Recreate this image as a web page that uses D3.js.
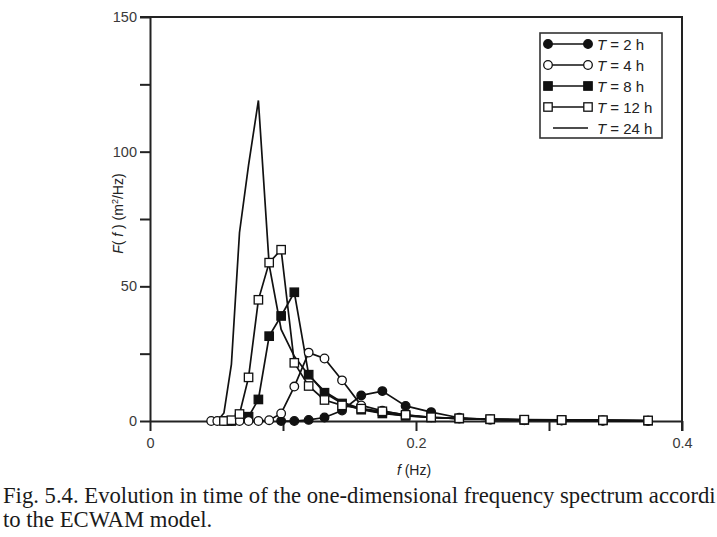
<!DOCTYPE html>
<html>
<head>
<meta charset="utf-8">
<script src="https://cdn.jsdelivr.net/npm/d3@7"></script>
<style>
    body { margin: 0; background: #fff; overflow: hidden; }
    svg { display: block; }
    .axis text { font-family: 'Liberation Sans', Arial, sans-serif; font-size: 14.5px; fill: #3a3a3a; }
    .axis line, .axis path { stroke: #222; stroke-width: 2; }
</style>
</head>
<body>
<svg id="spectrum" width="717" height="537"></svg>
<script>
// ECWAM frequency grid (Hz)
let freqs = [0.0418, 0.0460, 0.0506, 0.0556, 0.0612, 0.0673, 0.0741, 0.0815, 0.0896, 0.0986,
    0.1085, 0.1193, 0.1312, 0.1444, 0.1588, 0.1747, 0.1922, 0.2114, 0.2325, 0.2558,
    0.2814, 0.3095, 0.3405, 0.3745]

// F(f) values (m2/Hz), each series starts at freqs[start]
let t2Start = 9
let t2Values = [0, 0, 0.4, 1.3, 3.9, 9.5, 11.1, 5.6, 3.3, 1.2, 0.5, 0.3, 0.2, 0.1, 0.1]
let t4Start = 1
let t4Values = [0, 0, 0, 0, 0, 0, 0, 0.3, 2.8, 12.8, 25.4, 23.2, 15.1, 5.8, 3.8, 2.2, 1.4, 0.9, 0.6, 0.4, 0.3, 0.2, 0.1]
let t8Start = 4
let t8Values = [0, 1, 1.6, 8, 31.5, 39, 47.8, 17.2, 10.5, 6.5, 4.2, 2.8, 1.9, 1.3, 0.9, 0.6, 0.4, 0.3, 0.2, 0.1]
let t12Start = 3
let t12Values = [0, 0.3, 2.6, 16.2, 45, 58.8, 63.6, 21.6, 13, 7.8, 5.8, 4.6, 3.6, 2.3, 1.4, 1, 0.7, 0.5, 0.4, 0.3, 0.2]
let t24Start = 2
let t24Values = [0, 3, 21, 70, 95, 119, 58, 34, 24, 17, 11, 7, 4.5, 3, 2, 1.3, 0.9, 0.6, 0.4, 0.3, 0.2, 0.1]

let xTicks = [0, 0.1, 0.2, 0.3, 0.4]
let xTickLabels = ['0', '', '0.2', '', '0.4']
let yTicks = [0, 25, 50, 75, 100, 125, 150]
let yTickLabels = ['0', '', '50', '', '100', '', '150']

let legendLabels = ['2 h', '4 h', '8 h', '12 h', '24 h']
let captionLines = [
    'Fig. 5.4.  Evolution in time of the one-dimensional frequency spectrum accordi',
    'to the ECWAM model.'
]

function main() {
    let svg = d3.select('#spectrum'),
        margin = {top: 17, left: 150, right: 35, bottom: 116}
    let width = svg.attr('width') - margin.left - margin.right,
        height = svg.attr('height') - margin.top - margin.bottom

    let xScale = d3.scaleLinear().domain([0, 0.4]).range([margin.left, margin.left + width]),
        yScale = d3.scaleLinear().domain([0, 150]).range([margin.top + height, margin.top])

    let series = [
        {label: legendLabels[0], start: t2Start, values: t2Values, marker: 'circle', fill: '#111'},
        {label: legendLabels[1], start: t4Start, values: t4Values, marker: 'circle', fill: '#fff'},
        {label: legendLabels[2], start: t8Start, values: t8Values, marker: 'square', fill: '#111'},
        {label: legendLabels[3], start: t12Start, values: t12Values, marker: 'square', fill: '#fff'},
        {label: legendLabels[4], start: t24Start, values: t24Values, marker: null}
    ]
    series.forEach(s => {
        s.points = s.values.map((v, i) => ({f: freqs[s.start + i], v: v}))
    })

    // axes
    svg.append('g')
        .attr('class', 'axis')
        .attr('transform', 'translate(0,' + yScale(0) + ')')
        .call(d3.axisBottom(xScale).tickValues(xTicks).tickSize(10).tickSizeOuter(0).tickPadding(7)
            .tickFormat((d, i) => xTickLabels[i]))

    svg.append('g')
        .attr('class', 'axis')
        .attr('transform', 'translate(' + xScale(0) + ',0)')
        .call(d3.axisLeft(yScale).tickValues(yTicks).tickSize(10).tickSizeOuter(0).tickPadding(3)
            .tickFormat((d, i) => yTickLabels[i]))

    // top and right frame
    svg.append('path')
        .attr('d', 'M' + (xScale(0) - 10) + ',' + yScale(150) + 'H' + xScale(0.4) + 'V' + (yScale(0) + 10))
        .attr('fill', 'none')
        .attr('stroke', '#222')
        .attr('stroke-width', 2)

    // axis titles
    let xTitle = svg.append('text')
        .attr('x', xScale(0.2) - 2)
        .attr('y', yScale(0) + 54)
        .attr('text-anchor', 'middle')
        .attr('font-family', 'Liberation Sans, Arial, sans-serif')
        .attr('font-size', 14)
        .attr('fill', '#222')
    xTitle.append('tspan').attr('font-style', 'italic').text('f ')
    xTitle.append('tspan').text('(Hz)')

    let yTitle = svg.append('text')
        .attr('transform', 'translate(123,' + yScale(77) + ') rotate(-90)')
        .attr('text-anchor', 'middle')
        .attr('font-family', 'Liberation Sans, Arial, sans-serif')
        .attr('font-size', 14)
        .attr('fill', '#222')
    yTitle.append('tspan').attr('font-style', 'italic').text('F')
    yTitle.append('tspan').text('( ')
    yTitle.append('tspan').attr('font-style', 'italic').text('f')
    yTitle.append('tspan').text(' )  (m')
    yTitle.append('tspan').attr('font-size', 9).attr('dy', -5).text('2')
    yTitle.append('tspan').attr('dy', 5).text('/Hz)')

    let line = d3.line().x(d => xScale(d.f)).y(d => yScale(d.v))

    function drawMarkers(g, pts, s) {
        if (s.marker === 'circle') {
            g.selectAll('circle')
                .data(pts)
                .enter()
                .append('circle')
                .attr('cx', d => d.x)
                .attr('cy', d => d.y)
                .attr('r', 4.3)
                .attr('fill', s.fill)
                .attr('stroke', '#111')
                .attr('stroke-width', 1.3)
        } else if (s.marker === 'square') {
            g.selectAll('rect')
                .data(pts)
                .enter()
                .append('rect')
                .attr('x', d => d.x - 4.2)
                .attr('y', d => d.y - 4.2)
                .attr('width', 8.4)
                .attr('height', 8.4)
                .attr('fill', s.fill)
                .attr('stroke', '#111')
                .attr('stroke-width', 1.3)
        }
    }

    // draw order: 24 h line under, then the marker series
    let order = [4, 0, 2, 1, 3]
    order.forEach(k => {
        let s = series[k]
        let g = svg.append('g')
        g.append('path')
            .datum(s.points)
            .attr('d', line)
            .attr('fill', 'none')
            .attr('stroke', '#111')
            .attr('stroke-width', 1.7)
            .attr('stroke-linejoin', 'miter')
        drawMarkers(g, s.points.map(d => ({x: xScale(d.f), y: yScale(d.v)})), s)
    })

    // legend
    let legend = svg.append('g')
    legend.append('rect')
        .attr('x', 540)
        .attr('y', 33)
        .attr('width', 122)
        .attr('height', 105)
        .attr('fill', '#fff')
        .attr('stroke', '#333')
        .attr('stroke-width', 1.6)
    series.forEach((s, i) => {
        let y = 44 + i * 21
        let x0 = s.marker ? 548 : 553, x1 = 588
        let row = legend.append('g')
        row.append('line')
            .attr('x1', x0).attr('x2', x1)
            .attr('y1', y).attr('y2', y)
            .attr('stroke', '#111')
            .attr('stroke-width', 1.6)
        drawMarkers(row, [{x: x0, y: y}, {x: x1, y: y}], s)
        let t = row.append('text')
            .attr('x', 597)
            .attr('y', y + 5.5)
            .attr('font-family', 'Liberation Sans, Arial, sans-serif')
            .attr('font-size', 15)
            .attr('fill', '#222')
        t.append('tspan').attr('font-style', 'italic').text('T')
        t.append('tspan').text(' = ' + s.label)
    })

    // caption
    let caption = svg.append('g')
        .attr('font-family', 'Liberation Serif, Times New Roman, serif')
        .attr('fill', '#1a1a1a')
    let c1 = caption.append('text')
        .attr('x', 3)
        .attr('y', 503)
        .attr('font-size', 100)
        .text(captionLines[0])
    let size = 100 * 713 / c1.node().getComputedTextLength()
    c1.attr('font-size', size)
    caption.append('text')
        .attr('x', 3)
        .attr('y', 527)
        .attr('font-size', size)
        .text(captionLines[1])
}

main()
</script>
</body>
</html>
